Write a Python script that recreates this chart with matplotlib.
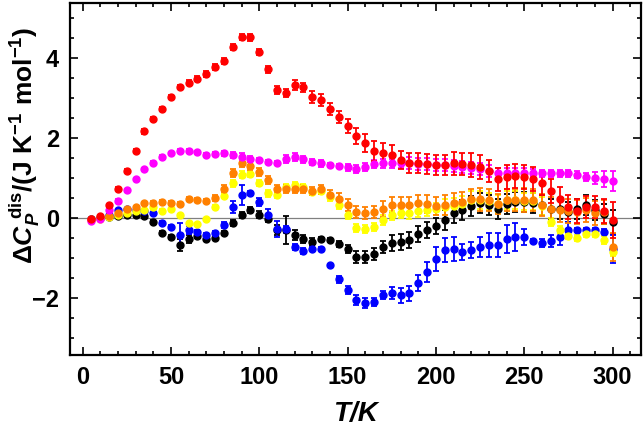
import matplotlib
matplotlib.use('Agg')
import matplotlib.pyplot as plt
from matplotlib.ticker import MultipleLocator

plt.rcParams['font.family'] = ['Liberation Sans', 'DejaVu Sans']
plt.rcParams['mathtext.fontset'] = 'custom'
plt.rcParams['mathtext.rm'] = 'Liberation Sans:bold'
plt.rcParams['mathtext.it'] = 'Liberation Sans:bold:italic'
plt.rcParams['mathtext.bf'] = 'Liberation Sans:bold'

# temperature grid (K)
T = [5, 10, 15, 20, 25, 30, 35, 40, 45, 50, 55, 60, 65, 70, 75, 80, 85, 90, 95, 100,
     105, 110, 115, 120, 125, 130, 135, 140, 145, 150, 155, 160, 165, 170, 175, 180, 185, 190, 195, 200,
     205, 210, 215, 220, 225, 230, 235, 240, 245, 250, 255, 260, 265, 270, 275, 280, 285, 290, 295, 300]

red = [-0.03, 0.05, 0.32, 0.74, 1.18, 1.68, 2.17, 2.49, 2.72, 3.02, 3.28, 3.39, 3.49, 3.60, 3.78, 3.93, 4.28, 4.53, 4.52, 4.16,
       3.72, 3.20, 3.13, 3.33, 3.27, 3.02, 2.95, 2.74, 2.53, 2.30, 2.05, 1.88, 1.69, 1.62, 1.58, 1.45, 1.38, 1.38, 1.35, 1.33,
       1.33, 1.37, 1.35, 1.33, 1.28, 1.18, 0.97, 1.03, 1.05, 1.03, 0.99, 0.87, 0.68, 0.49, 0.27, 0.18, 0.28, 0.28, 0.18, -0.05]
red_err = [0.04, 0.04, 0.04, 0.05, 0.05, 0.05, 0.07, 0.05, 0.05, 0.05, 0.05, 0.06, 0.06, 0.07, 0.08, 0.08, 0.08, 0.08, 0.08, 0.08,
           0.08, 0.10, 0.10, 0.12, 0.12, 0.15, 0.15, 0.15, 0.15, 0.17, 0.20, 0.22, 0.25, 0.25, 0.25, 0.22, 0.25, 0.25, 0.25, 0.25,
           0.25, 0.28, 0.28, 0.30, 0.30, 0.28, 0.28, 0.30, 0.30, 0.30, 0.30, 0.28, 0.30, 0.30, 0.30, 0.30, 0.28, 0.28, 0.30, 0.45]

magenta = [-0.07, -0.03, 0.20, 0.43, 0.70, 0.97, 1.22, 1.39, 1.53, 1.62, 1.68, 1.68, 1.65, 1.59, 1.60, 1.62, 1.58, 1.53, 1.49, 1.45,
           1.41, 1.38, 1.47, 1.52, 1.47, 1.41, 1.37, 1.34, 1.30, 1.27, 1.24, 1.27, 1.36, 1.37, 1.37, 1.37, 1.37, 1.36, 1.35, 1.33,
           1.32, 1.30, 1.28, 1.25, 1.22, 1.18, 1.13, 1.13, 1.13, 1.13, 1.13, 1.12, 1.12, 1.12, 1.12, 1.09, 1.03, 1.00, 0.97, 0.93]
magenta_err = [0.03, 0.03, 0.03, 0.04, 0.04, 0.04, 0.04, 0.04, 0.04, 0.04, 0.04, 0.04, 0.04, 0.04, 0.05, 0.06, 0.08, 0.10, 0.06, 0.05,
               0.05, 0.05, 0.10, 0.10, 0.08, 0.08, 0.08, 0.05, 0.05, 0.08, 0.10, 0.10, 0.10, 0.12, 0.12, 0.12, 0.15, 0.15, 0.15, 0.15,
               0.15, 0.15, 0.15, 0.15, 0.15, 0.15, 0.12, 0.12, 0.12, 0.12, 0.10, 0.08, 0.08, 0.08, 0.08, 0.08, 0.10, 0.15, 0.20, 0.25]

orange = [-0.02, 0.02, 0.06, 0.13, 0.22, 0.27, 0.37, 0.38, 0.40, 0.38, 0.35, 0.47, 0.45, 0.43, 0.51, 0.74, 1.13, 1.37, 1.30, 1.16,
          0.95, 0.74, 0.72, 0.74, 0.72, 0.68, 0.72, 0.59, 0.47, 0.33, 0.16, 0.13, 0.16, 0.24, 0.33, 0.33, 0.33, 0.38, 0.35, 0.30,
          0.33, 0.38, 0.41, 0.47, 0.47, 0.45, 0.35, 0.45, 0.45, 0.45, 0.45, 0.33, 0.24, 0.20, 0.17, 0.15, 0.20, 0.12, 0.15, -0.72]
orange_err = [0.03, 0.03, 0.03, 0.04, 0.04, 0.04, 0.04, 0.05, 0.05, 0.05, 0.05, 0.05, 0.05, 0.05, 0.08, 0.08, 0.10, 0.10, 0.10, 0.10,
              0.10, 0.10, 0.10, 0.10, 0.10, 0.10, 0.12, 0.12, 0.15, 0.15, 0.15, 0.15, 0.15, 0.20, 0.20, 0.20, 0.20, 0.20, 0.22, 0.22,
              0.25, 0.25, 0.25, 0.25, 0.28, 0.28, 0.25, 0.28, 0.28, 0.30, 0.28, 0.28, 0.30, 0.30, 0.30, 0.30, 0.30, 0.30, 0.30, 0.35]

yellow = [-0.05, -0.03, 0.03, 0.07, 0.12, 0.17, 0.20, 0.27, 0.18, 0.22, 0.07, -0.13, -0.15, -0.03, 0.28, 0.55, 0.87, 1.09, 1.10, 0.88,
          0.62, 0.58, 0.78, 0.83, 0.78, 0.66, 0.68, 0.53, 0.33, 0.07, -0.24, -0.28, -0.22, -0.05, 0.07, 0.12, 0.12, 0.17, 0.20, 0.22,
          0.27, 0.30, 0.35, 0.45, 0.45, 0.42, 0.35, 0.45, 0.45, 0.42, 0.42, 0.30, -0.10, -0.30, -0.45, -0.50, -0.40, -0.40, -0.55, -0.85]
yellow_err = [0.03, 0.03, 0.03, 0.03, 0.04, 0.04, 0.04, 0.04, 0.04, 0.04, 0.04, 0.04, 0.04, 0.04, 0.05, 0.05, 0.08, 0.08, 0.08, 0.08,
              0.08, 0.08, 0.08, 0.08, 0.08, 0.08, 0.08, 0.10, 0.10, 0.10, 0.10, 0.10, 0.10, 0.12, 0.12, 0.12, 0.15, 0.15, 0.15, 0.15,
              0.20, 0.20, 0.20, 0.22, 0.22, 0.22, 0.22, 0.22, 0.22, 0.22, 0.22, 0.22, 0.10, 0.10, 0.08, 0.08, 0.08, 0.08, 0.10, 0.10]

blue = [-0.03, 0.00, 0.08, 0.20, 0.22, 0.20, 0.17, 0.12, -0.13, -0.23, -0.42, -0.30, -0.35, -0.42, -0.38, -0.17, 0.28, 0.58, 0.64, 0.41,
        0.08, -0.26, -0.28, -0.72, -0.82, -0.78, -0.78, -1.16, -1.53, -1.80, -2.05, -2.12, -2.09, -1.93, -1.88, -1.93, -1.88, -1.62, -1.34, -1.01,
        -0.80, -0.76, -0.84, -0.80, -0.72, -0.68, -0.68, -0.51, -0.47, -0.48, -0.57, -0.62, -0.57, -0.48, -0.30, -0.30, -0.30, -0.30, -0.35, -0.76]
blue_err = [0.03, 0.03, 0.03, 0.04, 0.04, 0.04, 0.04, 0.04, 0.05, 0.05, 0.30, 0.10, 0.05, 0.05, 0.05, 0.08, 0.15, 0.25, 0.05, 0.10,
            0.15, 0.20, 0.08, 0.08, 0.08, 0.05, 0.05, 0.02, 0.08, 0.10, 0.12, 0.12, 0.10, 0.10, 0.15, 0.18, 0.18, 0.20, 0.25, 0.30,
            0.30, 0.30, 0.20, 0.20, 0.25, 0.30, 0.30, 0.35, 0.35, 0.20, 0.05, 0.10, 0.15, 0.20, 0.20, 0.05, 0.05, 0.05, 0.08, 0.35]

black = [-0.02, 0.00, 0.02, 0.05, 0.07, 0.07, 0.05, -0.09, -0.37, -0.48, -0.68, -0.53, -0.45, -0.53, -0.50, -0.37, -0.12, 0.08, 0.20, 0.09,
         -0.01, -0.30, -0.30, -0.42, -0.53, -0.59, -0.51, -0.55, -0.65, -0.76, -0.98, -0.98, -0.90, -0.72, -0.61, -0.59, -0.55, -0.40, -0.30, -0.20,
         -0.05, 0.12, 0.20, 0.30, 0.37, 0.32, 0.24, 0.35, 0.41, 0.41, 0.37, 0.32, 0.24, 0.22, 0.15, 0.24, 0.32, 0.20, 0.10, -0.09]
black_err = [0.03, 0.03, 0.03, 0.03, 0.03, 0.03, 0.04, 0.04, 0.05, 0.05, 0.15, 0.10, 0.05, 0.05, 0.05, 0.05, 0.08, 0.08, 0.08, 0.08,
             0.08, 0.12, 0.35, 0.12, 0.10, 0.10, 0.05, 0.05, 0.08, 0.10, 0.15, 0.15, 0.15, 0.15, 0.20, 0.20, 0.20, 0.20, 0.20, 0.20,
             0.25, 0.25, 0.25, 0.25, 0.25, 0.25, 0.25, 0.25, 0.25, 0.25, 0.25, 0.25, 0.25, 0.25, 0.25, 0.25, 0.25, 0.25, 0.25, 0.30]

series = [
    (black, black_err, '#000000'),
    (blue, blue_err, '#0000ff'),
    (yellow, yellow_err, '#ffff00'),
    (orange, orange_err, '#ff8000'),
    (magenta, magenta_err, '#ff00ff'),
    (red, red_err, '#ff0000'),
]

fig = plt.figure(figsize=(6.44, 4.34), dpi=100)
ax = fig.add_axes([0.109, 0.182, 0.886, 0.811])

ax.axhline(0, color='#808080', lw=0.9, zorder=1)
for vals, err, col in series:
    ax.errorbar(T, vals, yerr=err, fmt='o', color=col, ms=5, mec=col,
                elinewidth=1.3, capsize=2.2, capthick=1.3, zorder=2)

ax.set_xlim(-7, 316)
ax.set_ylim(-3.42, 5.38)

ax.xaxis.set_major_locator(MultipleLocator(50))
ax.xaxis.set_minor_locator(MultipleLocator(10))
ax.yaxis.set_major_locator(MultipleLocator(2))
ax.yaxis.set_minor_locator(MultipleLocator(0.5))
ax.tick_params(which='both', direction='in', top=True, right=True, width=1.2)
ax.tick_params(which='major', length=6, labelsize=17, pad=8)
ax.tick_params(which='minor', length=3)
for lab in ax.get_xticklabels() + ax.get_yticklabels():
    lab.set_fontweight('bold')
for sp in ax.spines.values():
    sp.set_linewidth(1.6)

fig.text(0.552, 0.045, 'T/K', ha='center', va='center', fontsize=20,
         fontweight='bold', fontstyle='italic')
fig.text(0.038, 0.665, r'$\Delta \mathit{C}_\mathit{P}^{\ \mathrm{dis}}$/(J K$^{-1}$ mol$^{-1}$)',
         rotation=90, ha='center', va='center', fontsize=19, fontweight='bold')

fig.savefig('out.png', dpi=100)
